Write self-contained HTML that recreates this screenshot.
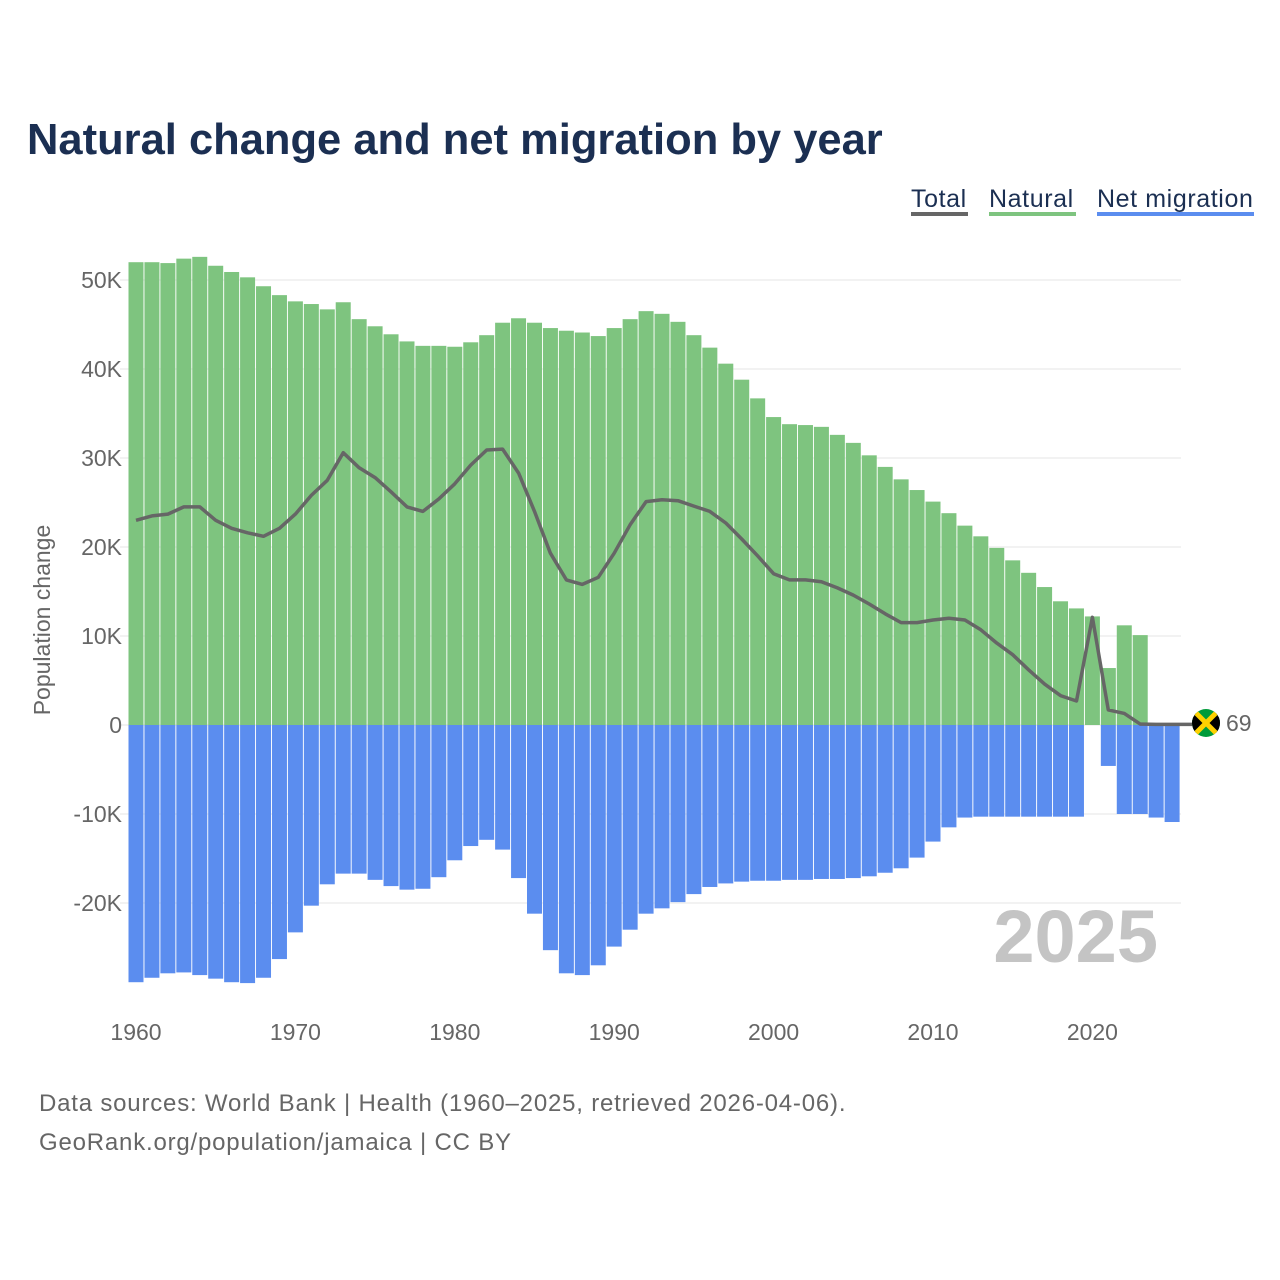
<!DOCTYPE html>
<html><head><meta charset="utf-8"><style>
html,body{margin:0;padding:0;background:#fff;width:1280px;height:1280px;overflow:hidden;font-family:"Liberation Sans",sans-serif}
</style></head><body>
<svg id="chart" width="1280" height="1280" xmlns="http://www.w3.org/2000/svg" font-family="Liberation Sans, sans-serif">
<text x="27" y="154" font-size="43.5" font-weight="bold" fill="#1b2f52">Natural change and net migration by year</text>
<g font-size="25" fill="#1b2f52" letter-spacing="0.6">
<g><text x="911" y="207">Total</text><rect x="911" y="212" width="57" height="4" fill="#666"/></g>
<g><text x="989" y="207">Natural</text><rect x="989" y="212" width="87" height="4" fill="#7ec47f"/></g>
<g><text x="1097" y="207">Net migration</text><rect x="1097" y="212" width="157" height="4" fill="#5b8def"/></g>
</g>
<g id="grid"></g>
<g id="bars"></g>
<g id="line"></g>
<g id="axes"></g>
<text x="1158" y="962" text-anchor="end" font-size="74" font-weight="bold" fill="#c4c4c4">2025</text>
<text transform="translate(50,620) rotate(-90)" text-anchor="middle" font-size="23" fill="#666">Population change</text>
<g>
<clipPath id="fc"><circle cx="1206" cy="723" r="14"/></clipPath>
<g clip-path="url(#fc)"><rect x="1192" y="709" width="28" height="28" fill="#009b3a"/><polygon points="1192,709 1206,723 1192,737" fill="#000"/><polygon points="1220,709 1206,723 1220,737" fill="#000"/><line x1="1192" y1="709" x2="1220" y2="737" stroke="#fed100" stroke-width="5"/><line x1="1220" y1="709" x2="1192" y2="737" stroke="#fed100" stroke-width="5"/></g>
<text x="1226" y="731" font-size="23" fill="#666">69</text>
</g>
<text x="39" y="1111" font-size="24" fill="#666" letter-spacing="0.8">Data sources: World Bank | Health (1960–2025, retrieved 2026-04-06).</text>
<text x="39" y="1150" font-size="24" fill="#666" letter-spacing="0.8">GeoRank.org/population/jamaica | CC BY</text>
</svg>
<script>
const years=[];for(let y=1960;y<=2025;y++)years.push(y);
const natural=[52.0,52.0,51.9,52.4,52.6,51.6,50.9,50.3,49.3,48.3,47.6,47.3,46.7,47.5,45.6,44.8,43.9,43.1,42.6,42.6,42.5,43.0,43.8,45.2,45.7,45.2,44.6,44.3,44.1,43.7,44.6,45.6,46.5,46.2,45.3,43.8,42.4,40.6,38.8,36.7,34.6,33.8,33.7,33.5,32.6,31.7,30.3,29.0,27.6,26.4,25.1,23.8,22.4,21.2,19.9,18.5,17.1,15.5,13.9,13.1,12.2,6.4,11.2,10.1,0,0];
const migration=[-28.9,-28.4,-27.9,-27.8,-28.1,-28.5,-28.9,-29.0,-28.4,-26.3,-23.3,-20.3,-17.9,-16.7,-16.7,-17.4,-18.1,-18.5,-18.4,-17.1,-15.2,-13.6,-12.9,-14.0,-17.2,-21.2,-25.3,-27.9,-28.1,-27.0,-24.9,-23.0,-21.2,-20.6,-19.9,-19.0,-18.2,-17.8,-17.6,-17.5,-17.5,-17.4,-17.4,-17.3,-17.3,-17.2,-17.0,-16.6,-16.1,-14.9,-13.1,-11.5,-10.4,-10.3,-10.3,-10.3,-10.3,-10.3,-10.3,-10.3,0,-4.6,-10.0,-10.0,-10.4,-10.9];
const total=[23.0,23.5,23.7,24.5,24.5,23.0,22.1,21.6,21.2,22.1,23.7,25.8,27.5,30.6,28.9,27.8,26.2,24.5,24.0,25.4,27.1,29.2,30.9,31.0,28.3,24.0,19.3,16.3,15.8,16.6,19.3,22.5,25.1,25.3,25.2,24.6,24.0,22.7,20.9,19.0,17.0,16.3,16.3,16.1,15.4,14.6,13.6,12.5,11.5,11.5,11.8,12.0,11.8,10.7,9.2,7.9,6.2,4.6,3.3,2.7,12.1,1.7,1.3,0.1,0.069,0.069];
const yTicks=[50,40,30,20,10,0,-10,-20];
const yTickLabels=["50K","40K","30K","20K","10K","0","-10K","-20K"];
const xTicks=[1960,1970,1980,1990,2000,2010,2020];
const NS='http://www.w3.org/2000/svg';
const step=15.94, bw=15;
const xc=y=>136+(y-1960)*step;
const ys=v=>725-v*8.9;
function mk(t,a,p){const e=document.createElementNS(NS,t);for(const k in a)e.setAttribute(k,a[k]);document.getElementById(p).appendChild(e);return e;}
yTicks.forEach((t,i)=>{
 const g=mk('line',{x1:120,x2:1181,y1:ys(t),y2:ys(t),stroke:'#e6e6e6','stroke-width':1},'grid');
 
 
 const l=mk('text',{x:122,y:ys(t)+8,'text-anchor':'end','font-size':23,fill:'#666'},'axes');
 
 
 l.textContent=yTickLabels[i];
});
xTicks.forEach(t=>{
 const l=mk('text',{x:xc(t),y:1040,'text-anchor':'middle','font-size':23,fill:'#666'},'axes');
 
 
 l.textContent=t;
});
years.forEach((y,i)=>{
 if(natural[i]>0){const r=mk('rect',{x:xc(y)-bw/2,y:ys(natural[i]),width:bw,height:ys(0)-ys(natural[i]),fill:'#7ec47f'},'bars');
 
 }
 if(migration[i]<0){const r=mk('rect',{x:xc(y)-bw/2,y:ys(0),width:bw,height:ys(migration[i])-ys(0),fill:'#5b8def'},'bars');
 
 }
});
let d='';years.forEach((y,i)=>{d+=(i?'L':'M')+xc(y).toFixed(1)+','+ys(total[i]).toFixed(1);});
d+='L1192,'+ys(total[total.length-1]).toFixed(1);
const p=mk('path',{d:d,fill:'none',stroke:'#666','stroke-width':3.5,'stroke-linejoin':'round'},'line');


</script>
</body></html>
